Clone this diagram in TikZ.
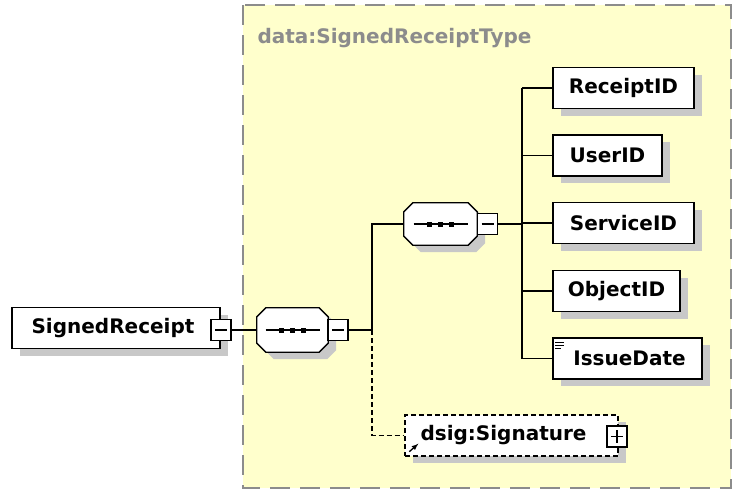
\documentclass[tikz,border=0pt]{standalone}
\usepackage{fontspec}
\setmainfont{DejaVu Sans}
\usetikzlibrary{shadows}
\definecolor{typefill}{RGB}{255,255,204}
\definecolor{typeline}{RGB}{140,140,140}
\definecolor{shadowgray}{RGB}{200,200,200}
\newcommand\octpath[1]{([xshift=9pt]#1.north west) -- ([xshift=-9pt]#1.north east)
  -- ([yshift=-9pt]#1.north east) -- ([yshift=9pt]#1.south east)
  -- ([xshift=-9pt]#1.south east) -- ([xshift=9pt]#1.south west)
  -- ([yshift=9pt]#1.south west) -- ([yshift=-9pt]#1.north west) -- cycle}
\tikzset{
  shade box/.style={general shadow={shadow xshift=8pt,shadow yshift=-7pt,fill=shadowgray}},
  elem/.style={draw,fill=white,line width=1.3pt,shade box,minimum height=41pt,inner sep=0pt,
    font=\fontsize{20}{20}\bfseries},
  minusbox/.style={draw,fill=white,line width=1.3pt,minimum width=20pt,minimum height=21pt,inner sep=0pt,
    path picture={\draw[line width=1.3pt] ([xshift=4pt]path picture bounding box.west)--([xshift=-4pt]path picture bounding box.east);}},
  plusbox/.style={minusbox,
    path picture={\draw[line width=1.3pt] ([xshift=4pt]path picture bounding box.west)--([xshift=-4pt]path picture bounding box.east)
      ([yshift=-4pt]path picture bounding box.north)--([yshift=4pt]path picture bounding box.south);}},
  conn/.style={line width=1.3pt},
  optline/.style={line width=1.3pt,dash pattern=on 5pt off 3pt}
}
\begin{document}
\begin{tikzpicture}[x=1pt,y=-1pt]
  \useasboundingbox (0,0) rectangle (734,490);
  % complex type area
  \draw[typeline,fill=typefill,line width=1.6pt,dash pattern=on 20pt off 10pt] (243,5) rectangle (731,488);
  \node[anchor=west,text=typeline,font=\fontsize{20}{20}\bfseries] (typename) at (254,38) {data:SignedReceiptType};
  % root element
  \node[elem,minimum width=208pt] (root) at (116,328) {SignedReceipt\hspace*{6pt}};
  \node[minusbox] (rootm) at (221,330) {};
  % sequences
  \node[minimum width=71pt,minimum height=44pt] (seqa) at (292.5,330) {};
  \node[minimum width=73pt,minimum height=42pt] (seqb) at (440.5,224) {};
  \foreach \s in {seqa,seqb} {
    \begin{scope}[transform canvas={shift={(8pt,-7pt)}}]
      \fill[shadowgray] \octpath{\s};
    \end{scope}
    \draw[line width=1.3pt,fill=white] \octpath{\s};
    \draw[conn] ([xshift=-27pt]\s.center) -- ([xshift=27pt]\s.center);
    \foreach \d in {-11,0,11}
      \fill ([xshift=\d pt]\s.center) +(-2.5pt,-2.5pt) rectangle +(2.5pt,2.5pt);
  }
  \node[minusbox] (seqam) at (338,330) {};
  \node[minusbox] (seqbm) at (487.5,224) {};
  % child elements
  \node[elem,minimum width=141pt] (receiptid) at (623.5,88) {ReceiptID};
  \node[elem,minimum width=109pt] (userid) at (607.5,155.5) {UserID};
  \node[elem,minimum width=141pt] (serviceid) at (623.5,223) {ServiceID};
  \node[elem,minimum width=127pt] (objectid) at (616.5,291) {ObjectID};
  \node[elem,minimum width=149pt] (issuedate) at (627.5,358.5) {\hspace*{4pt}IssueDate};
  \draw[line width=1pt] ([shift={(3pt,-5pt)}]issuedate.north west) -- +(9pt,0)
    ([shift={(3pt,-8pt)}]issuedate.north west) -- +(9pt,0)
    ([shift={(3pt,-11pt)}]issuedate.north west) -- +(6pt,0);
  % optional reference
  \node[elem,optline,minimum width=213pt] (signature) at (511.5,435.5) {\hspace*{6pt}dsig:Signature\hspace*{22pt}};
  \node[plusbox] (sigp) at (617,436.5) {};
  \draw[line width=1.3pt,-latex] ([shift={(5pt,5pt)}]signature.south west) -- +(9pt,8pt);
  % connectors
  \coordinate (forka) at (372,330);
  \coordinate (forkb) at (522,224);
  \draw[conn] (rootm.east) -- (seqa.west);
  \draw[conn] (seqam.east) -- (forka) |- (seqb.west);
  \draw[optline] (forka) |- (signature.west);
  \draw[conn] (seqbm.east) -- (forkb);
  \draw[conn] (forkb |- receiptid.west) -- (forkb |- issuedate.west);
  \foreach \c in {receiptid,userid,serviceid,objectid,issuedate}
    \draw[conn] (forkb |- \c.west) -- (\c.west);
\end{tikzpicture}
\end{document}
